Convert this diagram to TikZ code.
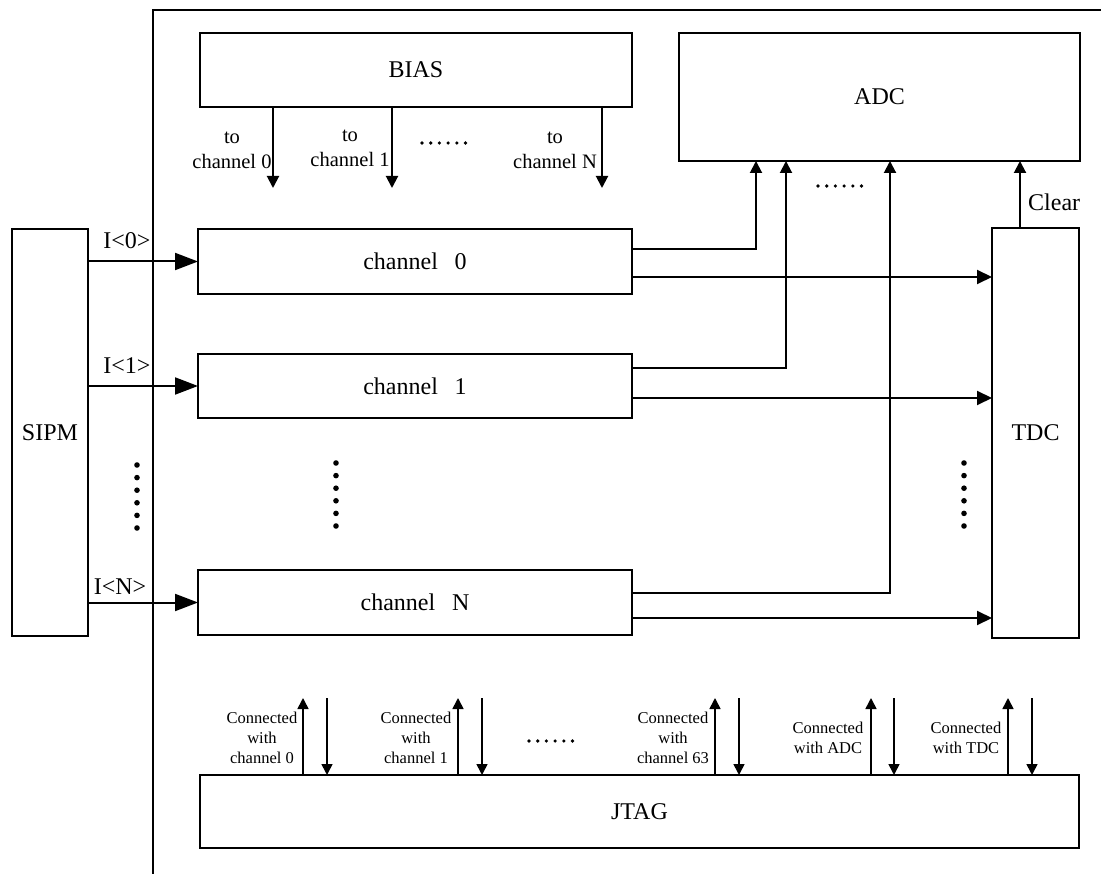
\documentclass[tikz,border=0pt]{standalone}
\usepackage{fontspec}
\setmainfont{Liberation Serif}
\usetikzlibrary{arrows.meta,calc}
\tikzset{
  box/.style={draw, line width=2.8pt, inner sep=0pt, outer sep=0pt, font=\fontsize{24}{28}\selectfont},
  conn/.style={line width=2pt},
  bigarr/.style={conn, -{Triangle[length=23pt,width=17pt]}},
  midarr/.style={conn, -{Triangle[length=15pt,width=14pt]}},
  smlarr/.style={conn, -{Triangle[length=12pt,width=12pt]}},
  tinyarr/.style={line width=1.6pt, -{Triangle[length=11pt,width=11pt]}},
  biaslbl/.style={align=center, inner sep=0pt, font=\fontsize{20.5}{25}\selectfont},
  jtaglbl/.style={align=center, inner sep=0pt, font=\fontsize{16.5}{20}\selectfont},
  siglbl/.style={inner sep=0pt, font=\fontsize{24}{28}\selectfont},
}
\newcommand{\myhdotrow}[2]{\foreach \k in {0,...,5}{\fill (#1+8.7*\k,#2) circle (1.8);}}
\newcommand{\myvdotcol}[2]{\foreach \k in {0,...,5}{\fill (#1,#2+12.6*\k) circle (2.8);}}
\begin{document}
\begin{tikzpicture}[x=1pt,y=-1pt]
\useasboundingbox (0,0) rectangle (1101,874);
% frame
\draw[line width=1.3pt] (153,874) -- (153,10) -- (1101,10);
% boxes
\node[box, minimum width=432, minimum height=74] (bias) at (416,70) {BIAS};
\node[box, minimum width=401, minimum height=128] (adc) at (879.5,97) {ADC};
\node[box, minimum width=434, minimum height=65] (ch0) at (415,261.5) {channel\hspace{0.7em}0};
\node[box, minimum width=434, minimum height=64] (ch1) at (415,386) {channel\hspace{0.7em}1};
\node[box, minimum width=434, minimum height=65] (chN) at (415,602.5) {channel\hspace{0.7em}N};
\node[box, minimum width=76, minimum height=407] (sipm) at (50,432.5) {SIPM};
\node[box, minimum width=87, minimum height=410] (tdc) at (1035.5,433) {TDC};
\node[box, minimum width=879, minimum height=73] (jtag) at (639.5,811.5) {JTAG};
% BIAS outputs
\draw[smlarr] ($(bias.south west)+(73,0)$) -- ++(0,81);
\draw[smlarr] ($(bias.south west)+(192,0)$) -- ++(0,81);
\draw[smlarr] ($(bias.south west)+(402,0)$) -- ++(0,81);
\node[biaslbl] (b0) at (232,150) {to\\channel 0};
\node[biaslbl] (b1) at (350,148) {to\\channel 1};
\node[biaslbl] (bN) at (555,150) {to\\channel N};
\myhdotrow{422}{143}
% SIPM to channels
\draw[bigarr] (sipm.east |- ch0) -- (ch0.west);
\draw[bigarr] (sipm.east |- ch1) -- (ch1.west);
\draw[bigarr] (sipm.east |- chN) -- (chN.west);
\node[siglbl] (i0) at (127,241) {I<0>};
\node[siglbl] (i1) at (127,366) {I<1>};
\node[siglbl] (iN) at (120,587) {I<N>};
% channels to ADC
\draw[smlarr] ($(ch0.east)+(0,-12.5)$) -| ($(adc.south west)+(77,0)$);
\draw[smlarr] ($(ch1.east)+(0,-18)$) -| ($(adc.south west)+(107,0)$);
\draw[smlarr] ($(chN.east)+(0,-9.5)$) -| ($(adc.south west)+(211,0)$);
\myhdotrow{818}{186}
% channels to TDC
\draw[midarr] ($(ch0.east)+(0,15.5)$) -- (tdc.west |- {$(ch0.east)+(0,15.5)$});
\draw[midarr] ($(ch1.east)+(0,12)$) -- (tdc.west |- {$(ch1.east)+(0,12)$});
\draw[midarr] ($(chN.east)+(0,15.5)$) -- (tdc.west |- {$(chN.east)+(0,15.5)$});
% TDC clear to ADC
\draw[smlarr] ($(tdc.north west)+(28,0)$) -- (adc.south -| {$(tdc.north west)+(28,0)$});
\node[siglbl, anchor=west] (clr) at (1028,202) {Clear};
% vertical dots
\myvdotcol{137}{465}
\myvdotcol{336}{463}
\myvdotcol{964}{463}
% JTAG links
\foreach \u/\d in {303/327, 458/482, 715/739, 871/894, 1008/1032}{
  \draw[tinyarr] (jtag.north -| \u,0) -- (\u,698);
  \draw[tinyarr] (\d,698) -- (jtag.north -| \d,0);
}
\node[jtaglbl] (j0) at (262,738) {Connected\\with\\channel 0};
\node[jtaglbl] (j1) at (416,738) {Connected\\with\\channel 1};
\node[jtaglbl] (j63) at (673,738) {Connected\\with\\channel 63};
\node[jtaglbl] (jadc) at (828,738) {Connected\\with ADC};
\node[jtaglbl] (jtdc) at (966,738) {Connected\\with TDC};
\myhdotrow{529}{741}
\end{tikzpicture}
\end{document}
